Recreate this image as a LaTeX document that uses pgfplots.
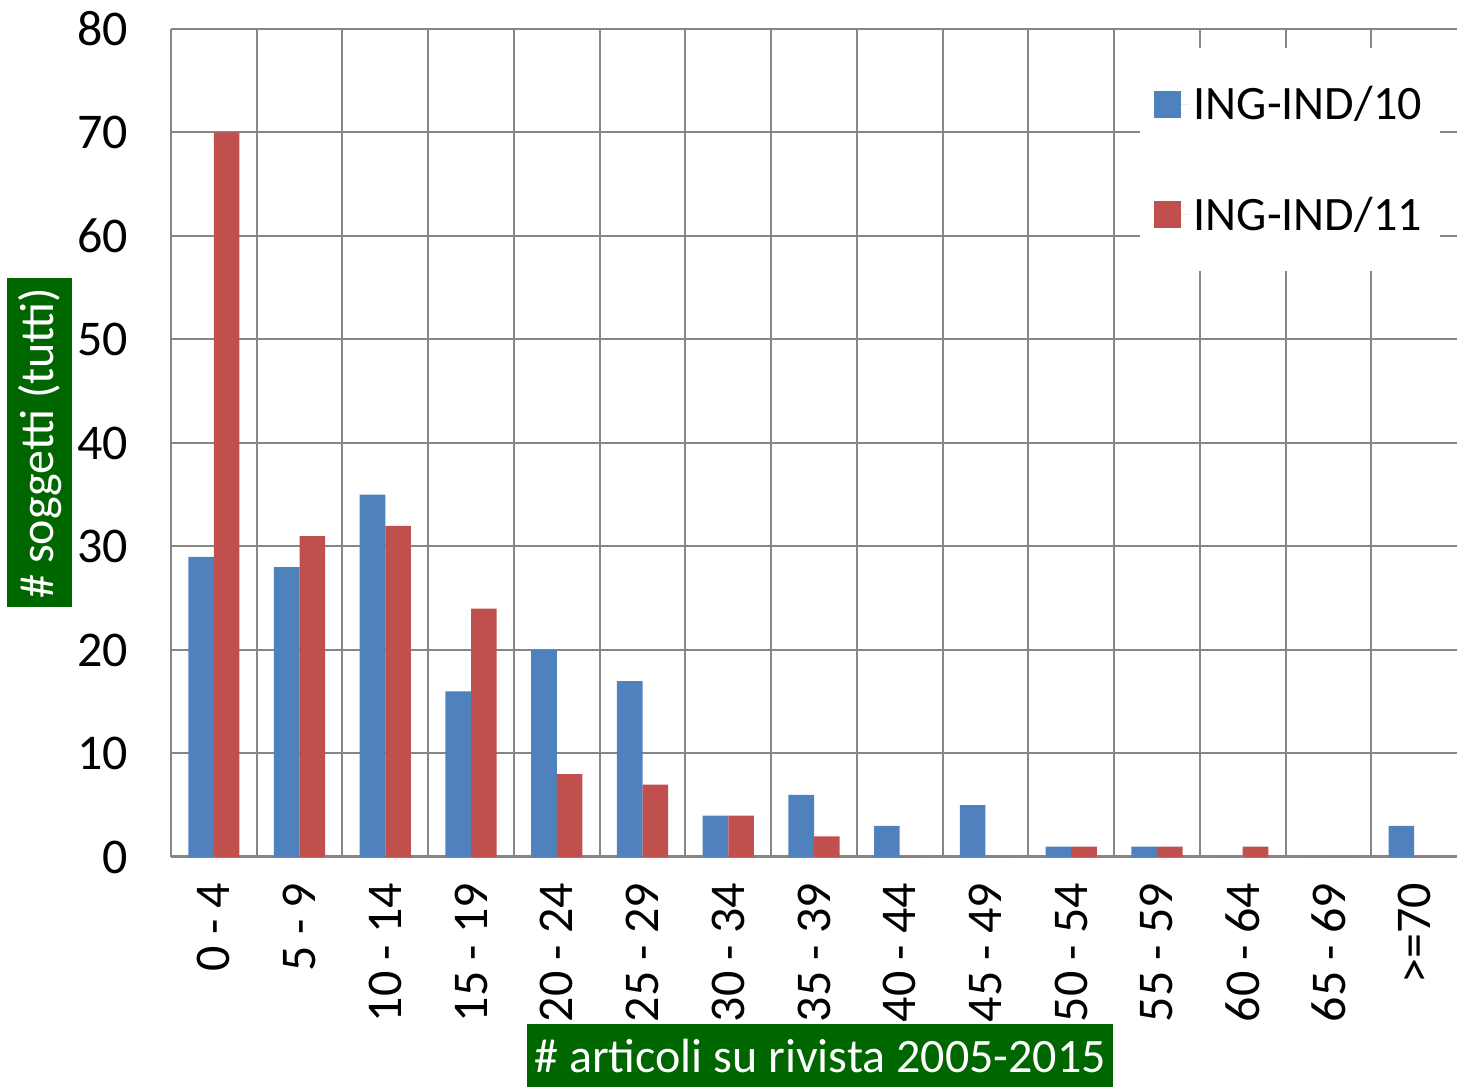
\documentclass[border=0pt]{standalone}
\usepackage{fontspec}
\setmainfont{Carlito}
\usepackage{pgfplots}
\pgfplotsset{compat=1.18}
\definecolor{cBlue}{HTML}{4F81BD}
\definecolor{cRed}{HTML}{C0504D}
\definecolor{cGrid}{HTML}{868686}
\definecolor{cLab}{HTML}{006600}
\newcommand{\bigf}{\fontsize{25}{29}\selectfont}
\newcommand{\labf}{\fontsize{24}{28}\selectfont}

\begin{document}
\begin{tikzpicture}
\begin{axis}[
  name=ax,
  scale only axis, width=643pt, height=414pt,
  ybar=0pt, bar width=12.8pt,
  xmin=-0.5, xmax=14.5, ymin=0, ymax=80, ytick distance=10,
  xtick={0,...,14},
  xticklabels={0 - 4,5 - 9,10 - 14,15 - 19,20 - 24,25 - 29,30 - 34,35 - 39,40 - 44,45 - 49,50 - 54,55 - 59,60 - 64,65 - 69,>=70},
  minor xtick={0.5,1.5,...,13.5},
  major tick length=0pt, minor tick length=0pt,
  axis x line*=bottom, axis y line*=left,
  x axis line style={-, draw=cGrid, line width=1.5pt},
  y axis line style={-, draw=cGrid, line width=1pt},
  ymajorgrids, xminorgrids,
  major grid style={draw=cGrid, line width=1pt},
  minor grid style={draw=cGrid, line width=1pt},
  /pgf/number format/assume math mode=true,
  tick label style={font=\bigf},
  yticklabel shift=18pt,
  xticklabel style={rotate=90, anchor=east},
  xticklabel shift=9.5pt,
  xlabel={\# articoli su rivista 2005-2015},
  ylabel={\# soggetti (tutti)},
  label style={font=\labf, fill=cLab, text=white},
  xlabel style={at={(axis description cs:0.5047,-0.2403)}, anchor=center, minimum width=293pt, minimum height=31.5pt, inner sep=0pt},
  ylabel style={at={(axis description cs:-0.1019,0.5)}, anchor=center, rotate=0, minimum width=164.5pt, minimum height=32.5pt, inner sep=0pt},
  legend style={at={(axis description cs:0.9868,0.9771)}, anchor=north east,
    draw=none, fill=white, font=\labf, inner xsep=7pt, inner ysep=17pt,
    row sep=33pt, cells={anchor=west}},
  legend image code/.code={\fill[#1] (0pt,-6.75pt) rectangle (13.5pt,6.75pt);
    \path (0pt,0pt) -- (18pt,0pt);},
]
\addplot[fill=cBlue, draw=none] coordinates {(0,29)(1,28)(2,35)(3,16)(4,20)(5,17)(6,4)(7,6)(8,3)(9,5)(10,1)(11,1)(12,0)(13,0)(14,3)};
\addlegendentry{ING-IND/10}
\addplot[fill=cRed, draw=none] coordinates {(0,70)(1,31)(2,32)(3,24)(4,8)(5,7)(6,4)(7,2)(8,0)(9,0)(10,1)(11,1)(12,1)(13,0)(14,0)};
\addlegendentry{ING-IND/11}
\end{axis}
\pgfresetboundingbox
\path (ax.south west) ++(-85.5pt,-116.5pt) rectangle ([yshift=14.5pt]ax.north east);
\end{tikzpicture}
\end{document}
